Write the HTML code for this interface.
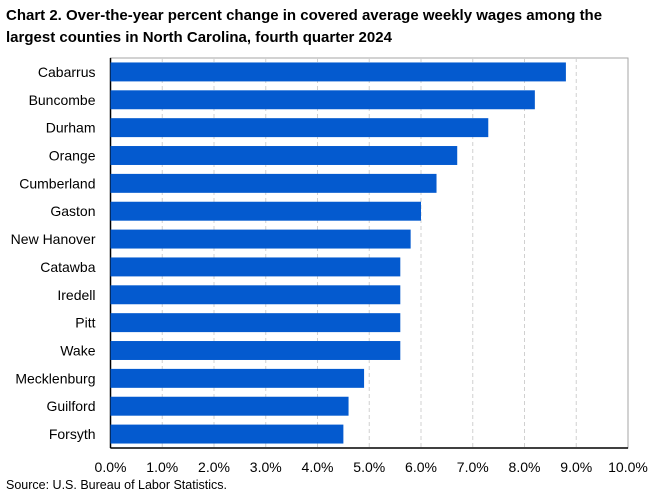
<!DOCTYPE html>
<html><head><meta charset="utf-8"><style>
body{margin:0;background:#fff;font-family:"Liberation Sans",Arial,sans-serif;}
svg text{font-family:"Liberation Sans",Arial,sans-serif;}
</style></head><body>
<svg id="chart" width="660" height="494" xmlns="http://www.w3.org/2000/svg">
<text x="6" y="20" font-size="15" font-weight="bold" fill="#000">Chart 2. Over-the-year percent change in covered average weekly wages among the</text>
<text x="6" y="42" font-size="15" font-weight="bold" fill="#000">largest counties in North Carolina, fourth quarter 2024</text>
<g id="grid"></g><g id="bars"></g><g id="labels"></g>
<text x="6" y="489" font-size="12.5" fill="#000">Source: U.S. Bureau of Labor Statistics.</text>
</svg>
<script>
const categories=["Cabarrus","Buncombe","Durham","Orange","Cumberland","Gaston","New Hanover","Catawba","Iredell","Pitt","Wake","Mecklenburg","Guilford","Forsyth"];
const values=[8.8,8.2,7.3,6.7,6.3,6.0,5.8,5.6,5.6,5.6,5.6,4.9,4.6,4.5];
const ticks=[0,1,2,3,4,5,6,7,8,9,10];
const tickLabels=["0.0%","1.0%","2.0%","3.0%","4.0%","5.0%","6.0%","7.0%","8.0%","9.0%","10.0%"];
const L=110.5,R=628,T=58,B=448;
const x=v=>L+(v/10)*(R-L);
const band=(B-T)/categories.length;
const y=i=>T+i*band;
const NS="http://www.w3.org/2000/svg";
function mk(t,a,p){const e=document.createElementNS(NS,t);for(const k in a)e.setAttribute(k,a[k]);p.appendChild(e);return e;}
const svg=document.getElementById('chart');
const g=document.getElementById('grid'),gb=document.getElementById('bars'),gl=document.getElementById('labels');
const frame=mk('rect',{x:L,y:T,width:R-L,height:B-T,fill:'none',stroke:'#a6a6a6','stroke-width':1},g);


ticks.forEach((t,i)=>{
 if(i>0&&i<ticks.length-1){const l=mk('line',{x1:x(t),x2:x(t),y1:T,y2:B,stroke:'#d0d0d0','stroke-dasharray':'4,3'},g);
 
 }
 const tx=mk('text',{x:x(t),y:B+24,'font-size':14,'text-anchor':'middle',fill:'#000'},gl);
 tx.textContent=tickLabels[i];
 
 
});
categories.forEach((c,i)=>{
 const bh=band*0.68;
 const r=mk('rect',{x:L,y:y(i)+(band-bh)/2,width:x(values[i])-L,height:bh,fill:'#045acf'},gb);
 
 
 const tx=mk('text',{x:L-15,y:y(i)+band/2+5,'font-size':14,'text-anchor':'end',fill:'#000'},gl);
 tx.textContent=c;
 
 
});
const ax=mk('line',{x1:L,x2:L,y1:T,y2:B,stroke:'#000','stroke-width':1.5},g);


const bx=mk('line',{x1:L,x2:R,y1:B,y2:B,stroke:'#000','stroke-width':1.5},g);


</script>
</body></html>
